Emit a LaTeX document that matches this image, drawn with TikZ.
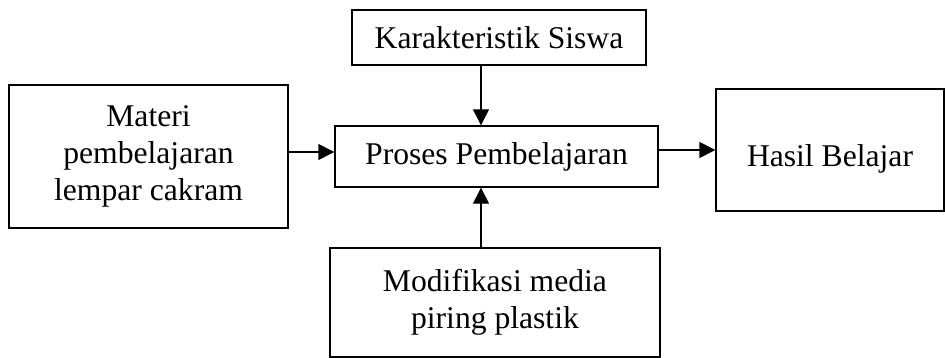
\documentclass[tikz,border=0pt]{standalone}
\usepackage{fontspec}
\setmainfont{Liberation Serif}
\usetikzlibrary{arrows.meta,positioning,calc}

\begin{document}
\begin{tikzpicture}[
  every node/.style={font=\fontsize{18}{21}\selectfont},
  kotak/.style={draw=black,line width=0.8pt,align=center,inner sep=0pt},
  ar/.style={-{Triangle[length=3.2mm,width=3.2mm]},line width=0.8pt}]
\useasboundingbox (0,0) rectangle (18.9,-7.16);
\node[kotak,minimum width=5.88cm,minimum height=1.10cm] (ks) at (9.98,-0.75) {Karakteristik Siswa};
\node[kotak,minimum width=5.58cm,minimum height=2.86cm] (mp) at (2.97,-3.13) {Materi\\pembelajaran\\lempar cakram};
\node[kotak,minimum width=6.46cm,minimum height=1.22cm] (pp) at (9.93,-3.13) {Proses Pembelajaran};
\node[kotak,minimum width=4.56cm,minimum height=2.44cm,text height=0.8cm] (hb) at (16.6,-3.0) {Hasil Belajar};
\node[kotak,minimum width=6.6cm,minimum height=2.18cm] (mm) at (9.9,-6.05) {Modifikasi media\\piring plastik};
% arrow lines
\coordinate (sumbu) at (9.62,-3.04);
\draw[ar] (ks.south -| sumbu) -- (pp.north -| sumbu);
\draw[ar] (mm.north -| sumbu) -- (pp.south -| sumbu);
\draw[ar] (mp.east |- sumbu) -- (pp.west |- sumbu);
\draw[ar] (pp.east |- hb) -- (hb.west);
\end{tikzpicture}
\end{document}
